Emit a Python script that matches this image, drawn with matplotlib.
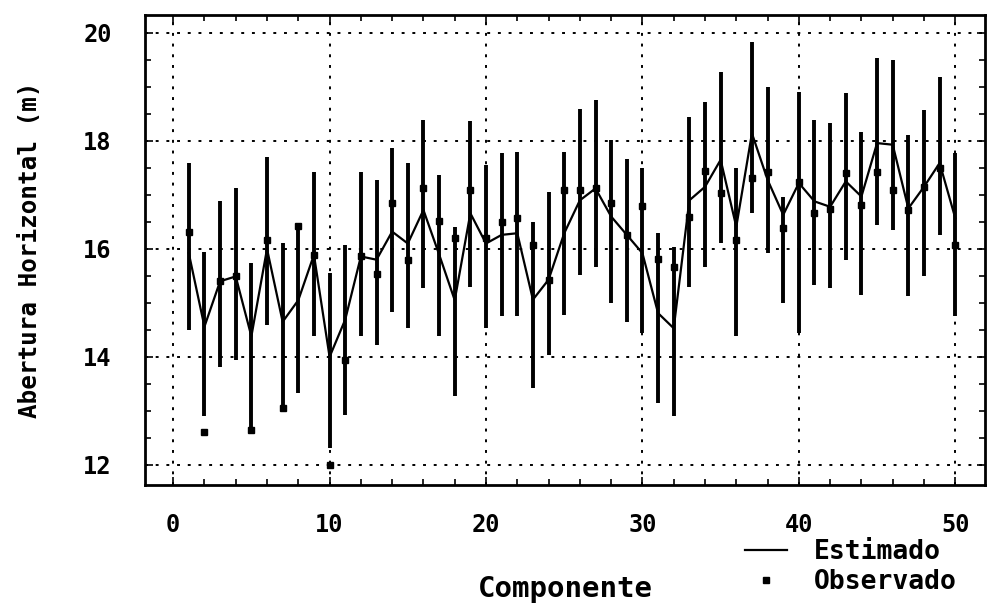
import matplotlib
matplotlib.use("Agg")
import matplotlib.pyplot as plt
import numpy as np

# component index 1..50
componente = list(range(1, 51))

observado = [16.32, 12.60, 15.40, 15.50, 12.65, 16.17, 13.05, 16.43, 15.89, 11.99,
             13.94, 15.86, 15.54, 16.85, 15.80, 17.12, 16.51, 16.20, 17.09, 16.20,
             16.49, 16.57, 16.07, 15.43, 17.10, 17.10, 17.12, 16.85, 16.26, 16.80,
             15.81, 15.67, 16.60, 17.45, 17.03, 16.17, 17.31, 17.43, 16.38, 17.23,
             16.66, 16.73, 17.40, 16.81, 17.43, 17.09, 16.72, 17.15, 17.49, 16.07]

estimado = [15.92, 14.56, 15.40, 15.49, 14.38, 16.00, 14.65, 15.05, 15.89, 14.00,
            14.69, 15.86, 15.80, 16.32, 16.10, 16.72, 15.90, 15.05, 16.66, 16.10,
            16.26, 16.29, 15.06, 15.43, 16.29, 16.90, 17.12, 16.60, 16.26, 15.92,
            14.81, 14.53, 16.90, 17.15, 17.65, 16.41, 18.14, 17.28, 16.63, 17.22,
            16.88, 16.78, 17.25, 16.97, 17.96, 17.93, 16.75, 17.15, 17.59, 16.57]

barra_sup = [17.59, 15.95, 16.88, 17.12, 15.73, 17.71, 16.10, 16.44, 17.43, 15.55,
             16.07, 17.43, 17.28, 17.86, 17.59, 18.39, 17.37, 16.41, 18.36, 17.56,
             17.77, 17.80, 16.50, 17.06, 17.80, 18.60, 18.76, 18.02, 17.66, 17.49,
             16.29, 16.04, 18.45, 18.73, 19.28, 17.49, 19.84, 19.00, 16.97, 18.91,
             18.39, 18.33, 18.88, 18.17, 19.53, 19.50, 18.11, 18.57, 19.19, 17.77]

barra_inf = [14.50, 12.90, 13.82, 13.94, 12.65, 14.59, 13.05, 13.33, 14.38, 12.31,
             12.93, 14.38, 14.22, 14.84, 14.53, 15.27, 14.38, 13.27, 15.30, 14.53,
             14.75, 14.75, 13.42, 14.04, 14.78, 15.52, 15.67, 15.00, 14.65, 14.44,
             13.15, 12.90, 15.30, 15.67, 16.10, 14.38, 16.66, 15.92, 15.00, 14.44,
             15.33, 15.27, 15.80, 15.15, 16.44, 16.35, 15.12, 15.50, 16.26, 14.75]

fonte = "DejaVu Sans Mono"

fig = plt.figure(figsize=(10, 6.06), dpi=100)
ax = fig.add_axes([0.145, 0.2, 0.84, 0.775])

ax.vlines(componente, barra_inf, barra_sup, color="black", linewidth=2.8)
ax.plot(componente, estimado, color="black", linewidth=1.6, label="Estimado")
ax.plot(componente, observado, linestyle="none", marker="s", markersize=4.5,
        color="black", label="Observado")

ax.set_xlim(-1.8, 51.9)
ax.set_ylim(11.63, 20.33)
ax.set_xticks(range(0, 51, 10))
ax.set_xticks(range(0, 52, 2), minor=True)
ax.set_yticks(range(12, 21, 2))
ax.set_yticks(np.arange(12, 20.5, 0.5), minor=True)
ax.tick_params(which="both", direction="in", top=True, right=True, width=1.2)
ax.tick_params(which="major", length=6)
ax.tick_params(which="minor", length=4)
ax.tick_params(axis="x", which="major", pad=20)
ax.tick_params(axis="y", which="major", pad=24)
for lbl in ax.get_xticklabels() + ax.get_yticklabels():
    lbl.set_fontfamily(fonte)
    lbl.set_fontweight("bold")
    lbl.set_fontsize(17)
for s in ax.spines.values():
    s.set_linewidth(2)

ax.grid(True, which="major", linestyle=(0, (1.5, 4)), color="black", linewidth=1.4)

ax.set_xlabel("Componente", fontfamily=fonte, fontweight="bold", fontsize=21, labelpad=28)
ax.set_ylabel("Abertura Horizontal (m)", fontfamily=fonte, fontweight="bold",
              fontsize=17.5, labelpad=30)

fig.legend(loc="upper left", bbox_to_anchor=(0.745, 0.11), frameon=False,
           prop={"family": fonte, "weight": "bold", "size": 19}, handlelength=1.6,
           handletextpad=1.0, labelspacing=0.15, borderaxespad=0, borderpad=0)

fig.savefig("out.png", dpi=100)
